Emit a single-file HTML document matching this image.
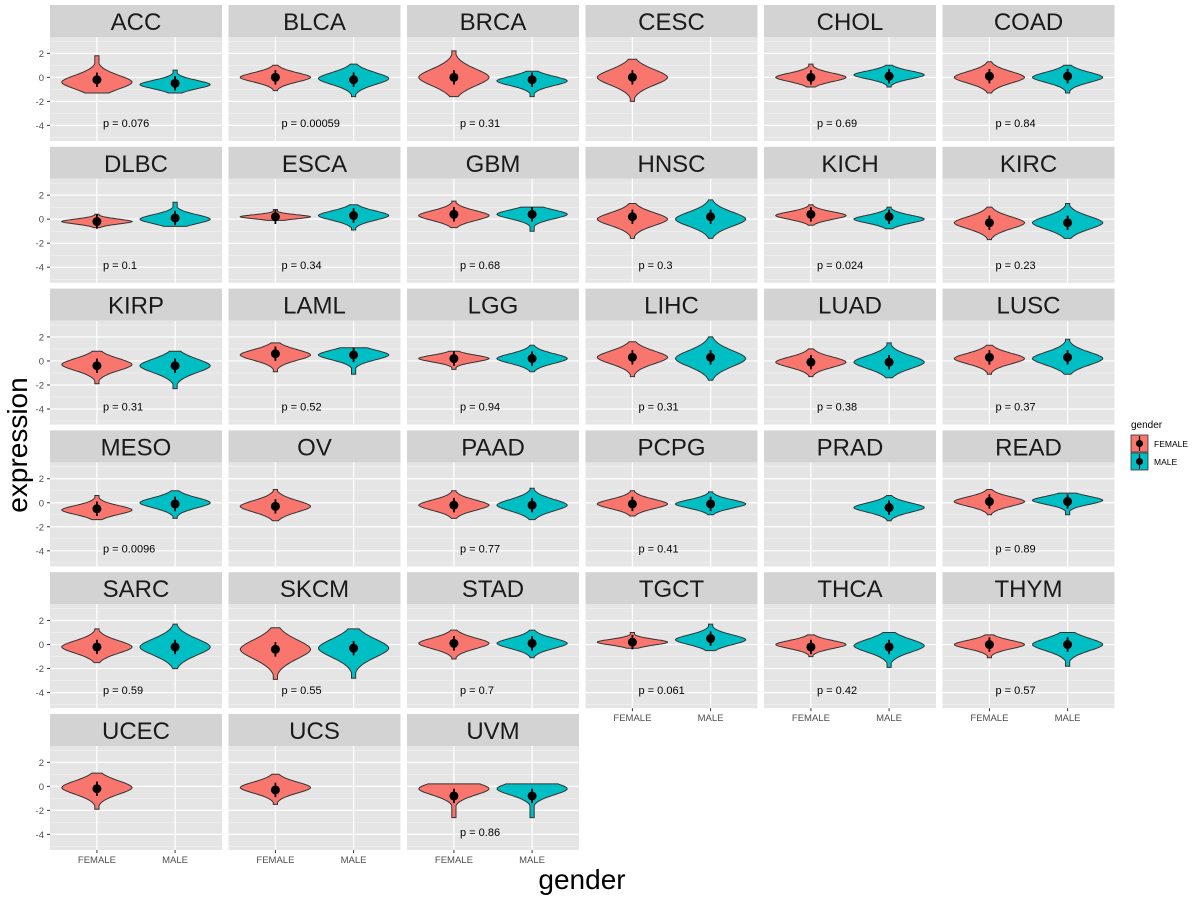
<!DOCTYPE html>
<html><head><meta charset="utf-8"><style>
html,body{margin:0;padding:0;background:#fff;}
svg{display:block;font-family:"Liberation Sans",Arial,sans-serif;}
</style></head><body>
<svg id="chart" width="1200" height="900" viewBox="0 0 1200 900" xmlns="http://www.w3.org/2000/svg"></svg>
<script>
const cancers = ["ACC","BLCA","BRCA","CESC","CHOL","COAD","DLBC","ESCA","GBM","HNSC","KICH","KIRC","KIRP","LAML","LGG","LIHC","LUAD","LUSC","MESO","OV","PAAD","PCPG","PRAD","READ","SARC","SKCM","STAD","TGCT","THCA","THYM","UCEC","UCS","UVM"];
const femaleMin  = [-1.3,-1.1,-1.6,-2.0,-0.8,-1.3,-0.7,-0.1,-0.7,-1.6,-0.5,-1.7,-1.9,-0.9,-0.7,-1.3,-1.3,-1.1,-1.4,-1.5,-1.3,-1.1,null,-1.0,-1.5,-2.9,-1.2,-0.3,-1.0,-1.1,-1.9,-1.5,-2.6];
const femaleMax  = [1.8,1.0,2.2,1.5,1.1,1.3,0.4,0.8,1.5,1.3,1.2,1.0,0.8,1.5,0.8,1.6,1.0,1.3,0.6,1.1,1.0,1.0,null,1.1,1.3,1.4,1.2,1.0,0.8,0.8,1.1,1.0,0.2];
const femaleMean = [-0.2,0.0,0.0,0.0,0.0,0.1,-0.2,0.2,0.4,0.2,0.4,-0.3,-0.4,0.6,0.2,0.3,-0.1,0.3,-0.5,-0.3,-0.2,-0.1,null,0.1,-0.2,-0.4,0.1,0.2,-0.2,0.0,-0.2,-0.3,-0.8];
const femalePeak = [-0.4,0.0,0.0,0.0,0.0,0.0,-0.2,0.2,0.3,0.0,0.3,-0.3,-0.3,0.5,0.2,0.3,-0.1,0.2,-0.6,-0.3,-0.2,-0.1,null,0.1,-0.2,-0.4,0.1,0.2,0.0,0.0,-0.1,-0.1,-0.2];
const maleMin  = [-1.3,-1.6,-1.6,null,-0.8,-1.3,-0.6,-0.9,-1.0,-1.6,-0.8,-1.6,-2.3,-1.1,-0.9,-1.6,-1.4,-1.1,-1.3,null,-1.4,-1.0,-1.5,-1.0,-2.0,-2.8,-1.1,-0.5,-1.9,-1.8,null,null,-2.6];
const maleMax  = [0.6,1.1,0.5,null,1.0,1.0,1.4,1.2,1.0,1.6,1.0,1.3,0.8,1.1,1.3,2.0,1.5,1.8,1.0,null,1.2,0.9,0.6,0.8,1.7,1.3,1.2,1.7,1.0,1.0,null,null,0.2];
const maleMean = [-0.5,-0.2,-0.2,null,0.1,0.1,0.1,0.3,0.4,0.2,0.2,-0.3,-0.4,0.5,0.2,0.3,-0.1,0.3,-0.1,null,-0.2,-0.1,-0.4,0.1,-0.2,-0.3,0.1,0.5,-0.2,0.0,null,null,-0.8];
const malePeak = [-0.6,-0.1,-0.3,null,0.2,0.0,0.0,0.3,0.4,0.0,0.0,-0.3,-0.4,0.5,0.2,0.2,-0.1,0.2,0.0,null,-0.2,-0.1,-0.4,0.2,-0.2,-0.3,0.1,0.4,-0.1,0.0,null,null,-0.2];
const pLabels = ["p = 0.076","p = 0.00059","p = 0.31","","p = 0.69","p = 0.84","p = 0.1","p = 0.34","p = 0.68","p = 0.3","p = 0.024","p = 0.23","p = 0.31","p = 0.52","p = 0.94","p = 0.31","p = 0.38","p = 0.37","p = 0.0096","","p = 0.77","p = 0.41","","p = 0.89","p = 0.59","p = 0.55","p = 0.7","p = 0.061","p = 0.42","p = 0.57","","","p = 0.86"];
const yTicks = [2,0,-2,-4];
const yTickLabels = ["2","0","-2","-4"];
const groups = ["FEMALE","MALE"];

const NS="http://www.w3.org/2000/svg";
const svg=document.getElementById("chart");
function mk(tag,attrs,parent){const e=document.createElementNS(NS,tag);for(const k in attrs)e.setAttribute(k,attrs[k]);(parent||svg).appendChild(e);return e;}
const colL=50, colPitch=178.5, panelW=172, rowT=5, rowPitch=141.8, stripH=32, panelH=104;
const yMax=3.36, yMin=-5.3;
function yScale(v,top){return top+(yMax-v)/(yMax-yMin)*panelH;}
function xScale(i,left){return left+panelW*(0.6+i)/2.2;}
const unitX=panelW/2.2;
const colors=["#F8766D","#00BFC4"];

cancers.forEach((c,k)=>{
  const col=k%6,row=Math.floor(k/6);
  const left=colL+col*colPitch, st=rowT+row*rowPitch, top=st+stripH;
  const g=mk("g",{});
  
  
  const strip=mk("rect",{x:left,y:st,width:panelW,height:stripH,fill:"#D3D3D3"},g);
  
  
  const st2=mk("text",{x:left+panelW/2,y:st+25,"text-anchor":"middle","font-size":"24",fill:"#1a1a1a"},g);
  st2.textContent=c;
  
  
  mk("rect",{x:left,y:top,width:panelW,height:panelH,fill:"#E5E5E5"},g);
  [3,1,-1,-3,-5].forEach(v=>mk("line",{x1:left,x2:left+panelW,y1:yScale(v,top),y2:yScale(v,top),stroke:"#F2F2F2","stroke-width":0.6},g));
  yTicks.forEach(v=>mk("line",{x1:left,x2:left+panelW,y1:yScale(v,top),y2:yScale(v,top),stroke:"#fff","stroke-width":1.2},g));
  [0,1].forEach(i=>mk("line",{x1:xScale(i,left),x2:xScale(i,left),y1:top,y2:top+panelH,stroke:"#fff","stroke-width":1.2},g));
  const sets=[[femaleMin,femaleMax,femaleMean,femalePeak],[maleMin,maleMax,maleMean,malePeak]];
  sets.forEach((s,i)=>{
    const mn=s[0][k],mx=s[1][k],me=s[2][k],pk=s[3][k];
    if(mn===null)return;
    const cx=xScale(i,left), sc=(mx-mn)/3.6, N=40;
    const right=[],leftp=[];
    for(let j=0;j<=N;j++){
      const v=mn+(mx-mn)*j/N;
      let w=Math.exp(-Math.pow(Math.abs(v-pk)/sc,1.8));
      w=Math.max(w,0.06)*0.45*unitX;
      right.push([cx+w,yScale(v,top)]);leftp.push([cx-w,yScale(v,top)]);
    }
    const pts=right.concat(leftp.reverse()).map(p=>p[0].toFixed(1)+","+p[1].toFixed(1)).join(" ");
    const vio=mk("polygon",{points:pts,fill:colors[i],stroke:"#333","stroke-width":1},g);
    
    
    mk("line",{x1:cx,x2:cx,y1:yScale(me+0.6,top),y2:yScale(me-0.6,top),stroke:"#000","stroke-width":1.8},g);
    const dot=mk("circle",{cx:cx,cy:yScale(me,top),r:4.5,fill:"#000"},g);
    
    
  });
  if(pLabels[k]){
    const pt=mk("text",{x:left+53,y:yScale(-3.8,top)+4,"font-size":"11",fill:"#000"},g);
    pt.textContent=pLabels[k];
    
    
  }
  if(col===0){
    yTicks.forEach((v,j)=>{
      const y=yScale(v,top);
      mk("line",{x1:left-3,x2:left,y1:y,y2:y,stroke:"#333"},g);
      const t=mk("text",{x:left-6,y:y+3.5,"text-anchor":"end","font-size":"9.5",fill:"#4d4d4d"},g);
      t.textContent=yTickLabels[j];
      
      
    });
  }
  const last = (k+6>=cancers.length);
  if(last){
    groups.forEach((gname,i)=>{
      const x=xScale(i,left);
      mk("line",{x1:x,x2:x,y1:top+panelH,y2:top+panelH+3,stroke:"#333"},g);
      const t=mk("text",{x:x,y:top+panelH+13,"text-anchor":"middle","font-size":"9.5",fill:"#4d4d4d"},g);
      t.textContent=gname;
      
      
    });
  }
});
const yl=mk("text",{x:0,y:0,transform:"translate(27,445) rotate(-90)","text-anchor":"middle","font-size":"28",fill:"#000"});
yl.textContent="expression";


const xl=mk("text",{x:582,y:889,"text-anchor":"middle","font-size":"28",fill:"#000"});
xl.textContent="gender";


const lg=mk("g",{});


const lt=mk("text",{x:1131,y:428,"font-size":"10",fill:"#000"},lg);
lt.textContent="gender";
groups.forEach((gname,i)=>{
  const y=435+i*18;
  const e=mk("g",{},lg);
  
  
  mk("rect",{x:1131,y:y,width:17,height:17,fill:colors[i],stroke:"#333","stroke-width":0.8},e);
  mk("line",{x1:1139.5,x2:1139.5,y1:y+1,y2:y+16,stroke:"#000","stroke-width":1.2},e);
  mk("circle",{cx:1139.5,cy:y+8.5,r:3.5,fill:"#000"},e);
  const t=mk("text",{x:1154,y:y+12,"font-size":"8.5",fill:"#000"},e);
  t.textContent=gname;
});
</script>
</body></html>
